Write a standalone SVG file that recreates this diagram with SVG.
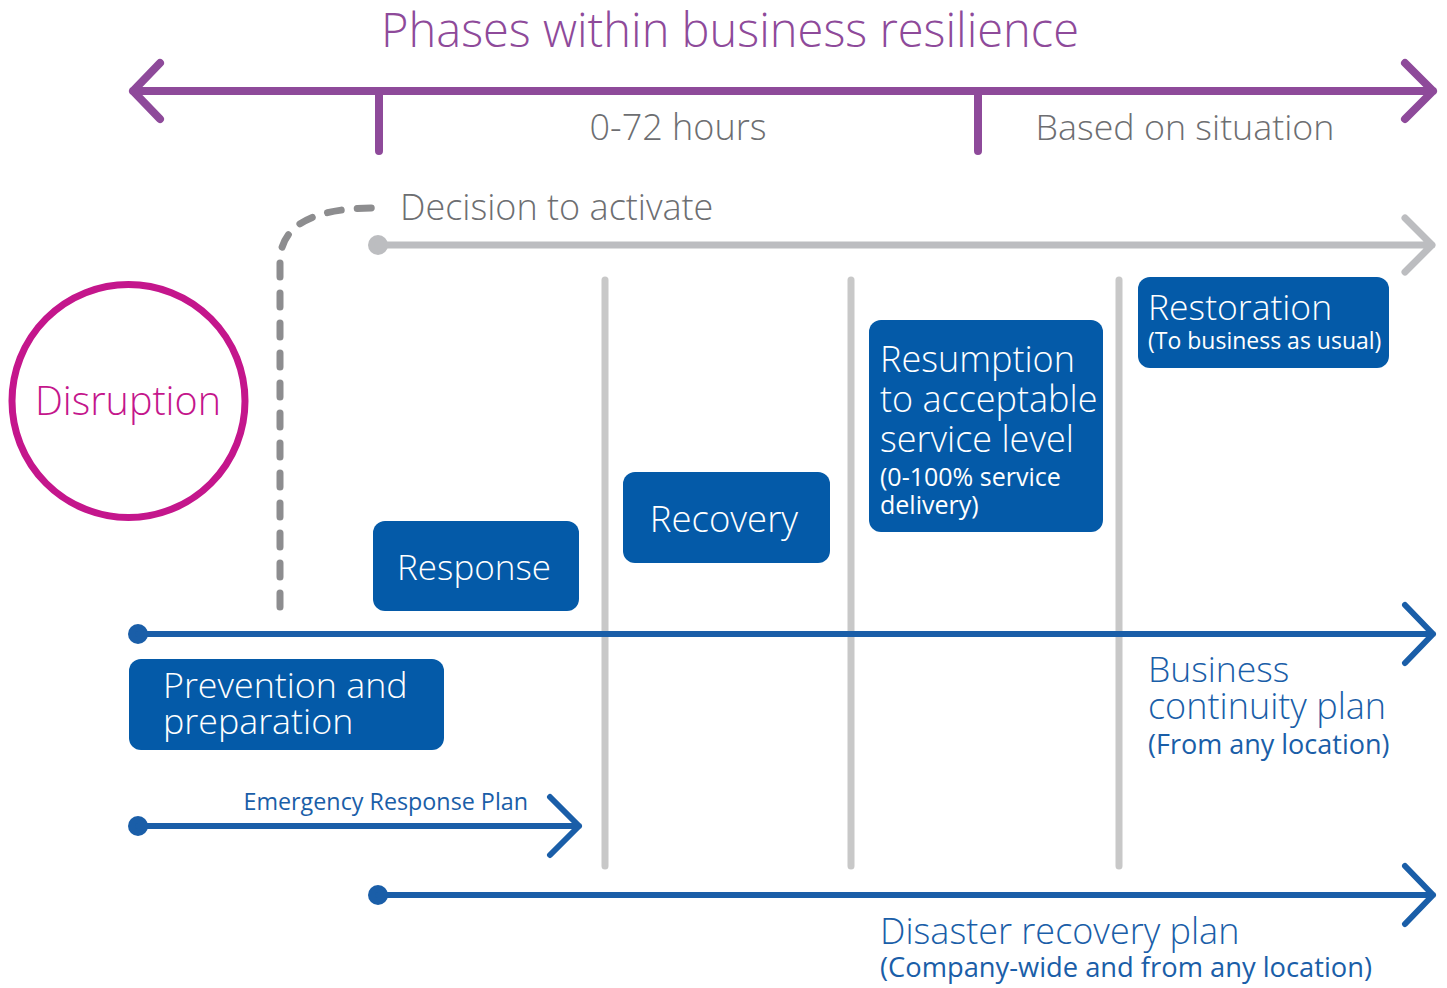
<svg xmlns="http://www.w3.org/2000/svg" width="1447" height="988" viewBox="0 0 1447 988">
  <style>
    text { font-family: "Open Sans", "Noto Sans", "Liberation Sans", sans-serif; font-weight: 300; }
    .purple { fill: #8e4a9a; }
    .grey { fill: #6d6e71; }
    .white { fill: #ffffff; }
    .blue { fill: #1a5ea8; }
    .sub { font-weight: 500; }
    .box { fill: #045aa8; }
    .axis { stroke: #8e4a9a; stroke-width: 8; fill: none; stroke-linecap: round; stroke-linejoin: round; }
    .act { stroke: #bcbdc0; stroke-width: 7; fill: none; stroke-linecap: round; stroke-linejoin: round; }
    .plan { stroke: #1a5ea8; stroke-width: 6; fill: none; stroke-linecap: round; stroke-linejoin: round; }
    .divider { stroke: #c8c8c8; stroke-width: 7; stroke-linecap: round; }
  </style>

  <!-- Title and phase axis -->
  <g id="title">
    <text x="730" y="47" text-anchor="middle" font-size="47" class="purple">Phases within business resilience</text>
  </g>
  <g id="phase-axis">
    <path class="axis" d="M133 91 H1433 M160 63 L133 91 L160 119 M1405 63 L1433 91 L1405 119 M379 91 V151 M978 91 V151"/>
    <text x="678" y="140" text-anchor="middle" font-size="36" class="grey">0-72 hours</text>
    <text x="1185" y="140" text-anchor="middle" font-size="35.8" class="grey">Based on situation</text>
  </g>

  <!-- Vertical phase dividers -->
  <g id="dividers">
    <line class="divider" x1="605" y1="280" x2="605" y2="866"/>
    <line class="divider" x1="851" y1="280" x2="851" y2="866"/>
    <line class="divider" x1="1119" y1="280" x2="1119" y2="866"/>
  </g>

  <!-- Connectors -->
  <g id="connectors">
    <path d="M280 607 V262 Q280 208 375 208" fill="none" stroke="#8d8d8f" stroke-width="7" stroke-linecap="round" stroke-dasharray="14 16"/>
    <circle cx="378" cy="245" r="10" fill="#bcbdc0"/>
    <path class="act" d="M378 245 H1432 M1405 218 L1432 245 L1405 272"/>
    <circle cx="138" cy="634" r="10" fill="#1a5ea8"/>
    <path class="plan" d="M138 634 H1433 M1405 605 L1433 634 L1405 663"/>
    <circle cx="138" cy="826" r="10" fill="#1a5ea8"/>
    <path class="plan" d="M138 826 H579 M550 797 L579 826 L550 855"/>
    <circle cx="378" cy="895" r="10" fill="#1a5ea8"/>
    <path class="plan" d="M378 895 H1433 M1405 866 L1433 895 L1405 924"/>
  </g>

  <g id="decision-label">
    <text x="400" y="220" font-size="36" class="grey">Decision to activate</text>
  </g>

  <g id="disruption">
    <circle cx="128.5" cy="401" r="116.5" fill="none" stroke="#c4168c" stroke-width="7"/>
    <text x="128" y="415" text-anchor="middle" font-size="39.5" fill="#c4168c">Disruption</text>
  </g>

  <g id="response">
    <rect class="box" x="373" y="521" width="206" height="90" rx="12"/>
    <text x="474" y="580" text-anchor="middle" font-size="35" class="white">Response</text>
  </g>

  <g id="recovery">
    <rect class="box" x="623" y="472" width="207" height="91" rx="12"/>
    <text x="724" y="532" text-anchor="middle" font-size="36.5" class="white">Recovery</text>
  </g>

  <g id="resumption">
    <rect class="box" x="869" y="320" width="234" height="212" rx="12"/>
    <text x="880" y="372" font-size="36" class="white">Resumption</text>
    <text x="880" y="412" font-size="36" class="white">to acceptable</text>
    <text x="880" y="452" font-size="36" class="white">service level</text>
    <text x="880" y="486" font-size="25" class="white sub">(0-100% service</text>
    <text x="880" y="514" font-size="25" class="white sub">delivery)</text>
  </g>

  <g id="restoration">
    <rect class="box" x="1138" y="277" width="251" height="91" rx="12"/>
    <text x="1148" y="320" font-size="35.5" class="white">Restoration</text>
    <text x="1148" y="349" font-size="23" class="white sub">(To business as usual)</text>
  </g>

  <g id="prevention">
    <rect class="box" x="129" y="659" width="315" height="91" rx="12"/>
    <text x="163" y="698" font-size="35.8" class="white">Prevention and</text>
    <text x="163" y="734" font-size="35.8" class="white">preparation</text>
  </g>

  <g id="business-continuity-plan">
    <text x="1148" y="682" font-size="35.5" class="blue">Business</text>
    <text x="1148" y="719" font-size="36" class="blue">continuity plan</text>
    <text x="1148" y="754" font-size="27" class="blue sub">(From any location)</text>
  </g>

  <g id="emergency-response-plan">
    <text x="528" y="810" text-anchor="end" font-size="23.3" class="blue sub">Emergency Response Plan</text>
  </g>

  <g id="disaster-recovery-plan">
    <text x="880" y="944" font-size="36" class="blue">Disaster recovery plan</text>
    <text x="880" y="977" font-size="27.3" class="blue sub">(Company-wide and from any location)</text>
  </g>
</svg>
